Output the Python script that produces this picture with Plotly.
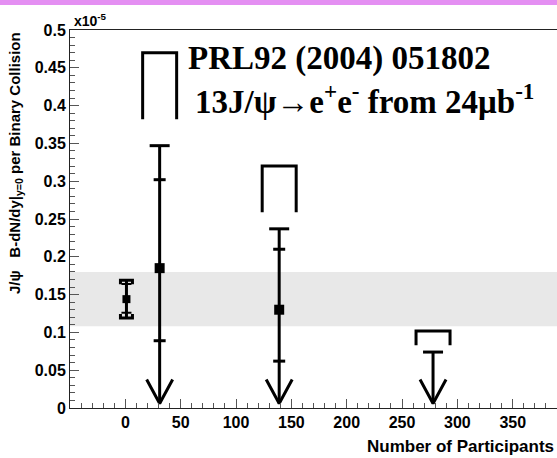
import plotly.graph_objects as go

# ---------------- data (values in units of 1e-5) ----------------
pp_npart = [1]
pp_value = [0.144]
pp_stat_hi = [0.164]
pp_stat_lo = [0.126]
pp_sys_hi = [0.169]
pp_sys_lo = [0.119]

band_lo = 0.108
band_hi = 0.180

au_npart = [31, 139, 278]
au_value = [0.185, 0.130, None]
au_stat_hi = [0.302, 0.210, None]
au_stat_lo = [0.089, 0.062, None]
au_limit = [0.347, 0.237, 0.074]
au_sys_top = [0.470, 0.320, 0.102]
au_sys_bot = [0.382, 0.259, 0.083]
arrow_tip = 0.006

x_tickvals = [0, 50, 100, 150, 200, 250, 300, 350]
y_tickvals = [0, 0.05, 0.1, 0.15, 0.2, 0.25, 0.3, 0.35, 0.4, 0.45, 0.5]
y_ticktext = ["0", "0.05", "0.1", "0.15", "0.2", "0.25", "0.3", "0.35", "0.4", "0.45", "0.5"]

X_RANGE = [-50, 390]
Y_RANGE = [0, 0.5]

# ---------------- layout geometry ----------------
W, H = 557, 458
ML, MR, MT, MB = 70, 0, 30, 50
PW = W - ML - MR
PH = H - MT - MB


def dx(px):
    return px * (X_RANGE[1] - X_RANGE[0]) / PW


def dy(px):
    return px * (Y_RANGE[1] - Y_RANGE[0]) / PH


def seg(xs, ys, xa, ya):
    xs.extend(xa + [None])
    ys.extend(ya + [None])


# thick black segments for Au+Au points
tx, ty = [], []
for i, x in enumerate(au_npart):
    lim = au_limit[i]
    seg(tx, ty, [x, x], [lim, arrow_tip])
    seg(tx, ty, [x - dx(10), x + dx(10)], [lim, lim])
    seg(tx, ty, [x - dx(13), x, x + dx(13)], [arrow_tip + dy(24), arrow_tip, arrow_tip + dy(24)])
    if au_stat_hi[i] is not None:
        seg(tx, ty, [x - dx(6), x + dx(6)], [au_stat_hi[i], au_stat_hi[i]])
        seg(tx, ty, [x - dx(6), x + dx(6)], [au_stat_lo[i], au_stat_lo[i]])
    seg(tx, ty, [x - dx(17), x - dx(17), x + dx(17), x + dx(17)],
        [au_sys_bot[i], au_sys_top[i], au_sys_top[i], au_sys_bot[i]])

# p+p point
px_, py_ = [], []
for i, x in enumerate(pp_npart):
    seg(px_, py_, [x, x], [pp_sys_lo[i], pp_sys_hi[i]])
    seg(px_, py_, [x - dx(6), x - dx(6), x + dx(6), x + dx(6)],
        [pp_sys_hi[i] - dy(4), pp_sys_hi[i], pp_sys_hi[i], pp_sys_hi[i] - dy(4)])
    seg(px_, py_, [x - dx(6), x - dx(6), x + dx(6), x + dx(6)],
        [pp_sys_lo[i] + dy(4), pp_sys_lo[i], pp_sys_lo[i], pp_sys_lo[i] + dy(4)])
thin_x, thin_y = [], []
for i, x in enumerate(pp_npart):
    seg(thin_x, thin_y, [x - dx(5), x + dx(5)], [pp_stat_hi[i], pp_stat_hi[i]])
    seg(thin_x, thin_y, [x - dx(5), x + dx(5)], [pp_stat_lo[i], pp_stat_lo[i]])

fig = go.Figure()
fig.add_trace(go.Scatter(x=tx, y=ty, mode="lines", line=dict(color="black", width=3),
                         hoverinfo="skip", showlegend=False))
fig.add_trace(go.Scatter(x=px_, y=py_, mode="lines", line=dict(color="black", width=3),
                         hoverinfo="skip", showlegend=False))
fig.add_trace(go.Scatter(x=thin_x, y=thin_y, mode="lines", line=dict(color="black", width=2),
                         hoverinfo="skip", showlegend=False))
fig.add_trace(go.Scatter(x=[x for x, v in zip(au_npart, au_value) if v is not None],
                         y=[v for v in au_value if v is not None], mode="markers",
                         marker=dict(symbol="square", size=10, color="black"), showlegend=False))
fig.add_trace(go.Scatter(x=pp_npart, y=pp_value, mode="markers",
                         marker=dict(symbol="square", size=8, color="black"), showlegend=False))

# gray band
fig.add_shape(type="rect", xref="paper", yref="y", x0=0, x1=1, y0=band_lo, y1=band_hi,
              fillcolor="#e8e8e8", line=dict(width=0), layer="below")

# magenta strip at top of page
fig.add_shape(type="rect", xref="paper", yref="paper", x0=-ML / PW, x1=1 + MR / PW,
              y0=1 + (MT - 5) / PH, y1=1 + MT / PH, fillcolor="#e48ff2", line=dict(width=0))

tickfont = dict(family="Liberation Sans", size=16, color="black", weight="bold")

fig.update_xaxes(range=X_RANGE, showline=True, linecolor="#222", linewidth=1, mirror=True,
                 ticks="inside", ticklen=9, tickwidth=1, tickcolor="#555",
                 tickmode="array", tickvals=x_tickvals, ticktext=[str(v) for v in x_tickvals],
                 minor=dict(ticks="inside", ticklen=5, tick0=0, dtick=10, tickcolor="#555", tickwidth=1),
                 showgrid=False, zeroline=False, tickfont=tickfont)
fig.update_yaxes(range=Y_RANGE, showline=True, linecolor="#222", linewidth=1, mirror=False,
                 ticks="inside", ticklen=9, tickwidth=1, tickcolor="#555",
                 tickmode="array", tickvals=y_tickvals, ticktext=y_ticktext,
                 minor=dict(ticks="inside", ticklen=5, tick0=0, dtick=0.01, tickcolor="#555", tickwidth=1),
                 showgrid=False, zeroline=False, tickfont=tickfont)


def ppx(px):
    return (px - ML) / PW


def ppy(py):
    return (H - MB - py) / PH


annots = [
    dict(text="PRL92 (2004) 051802", x=ppx(186), y=ppy(58), xanchor="left", yanchor="middle",
         font=dict(family="Liberation Serif", size=33, color="black", weight="bold")),
    dict(text="13J/ψ→e<sup>+</sup>e<sup>-</sup> from 24μb<sup>-1</sup>", x=ppx(193), y=ppy(99),
         xanchor="left", yanchor="middle",
         font=dict(family="Liberation Serif", size=33, color="black", weight="bold")),
    dict(text="x10<sup>-5</sup>", x=ppx(72), y=ppy(20), xanchor="left", yanchor="middle",
         font=dict(family="Liberation Sans", size=14, color="black", weight="bold")),
    dict(text="Number of Participants", x=ppx(556), y=ppy(446), xanchor="right", yanchor="middle",
         font=dict(family="Liberation Sans", size=17, color="black", weight="bold")),
    dict(text="J/ψ   B-dN/dy|<sub>y=0</sub> per Binary Collision", x=ppx(15), y=ppy(30),
         xanchor="center", yanchor="top", textangle=-90,
         font=dict(family="Liberation Sans", size=15, color="black", weight="bold")),
]
for a in annots:
    fig.add_annotation(xref="paper", yref="paper", showarrow=False, **a)

fig.update_layout(width=W, height=H, margin=dict(l=ML, r=MR, t=MT, b=MB, pad=0),
                  plot_bgcolor="white", paper_bgcolor="white", showlegend=False)

fig.write_html("out.html")
